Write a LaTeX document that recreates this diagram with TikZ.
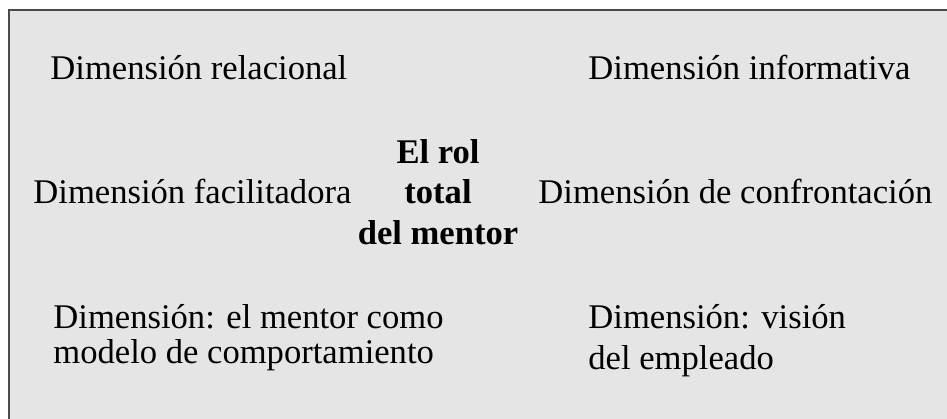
\documentclass[tikz,border=0pt]{standalone}
\usepackage{fontspec}
\setmainfont{Liberation Serif}
\definecolor{boxfill}{HTML}{E5E5E5}
\definecolor{boxline}{HTML}{4A4A4A}
\begin{document}
\begin{tikzpicture}[x=0.5pt,y=-0.5pt,
  dimlabel/.style={inner sep=0pt, anchor=base west, text=black,
    font=\fontsize{17.3}{17.5}\selectfont},
  corelabel/.style={inner sep=0pt, anchor=base, align=center, text=black,
    font=\fontsize{17.3}{20.25}\selectfont\bfseries}]
\useasboundingbox (0,0) rectangle (947,418);
\draw[boxline, line width=1pt, fill=boxfill] (8.5,9.5) rectangle (980,450);
\node[dimlabel] (rel) at (50,79) {Dimensión relacional};
\node[dimlabel] (inf) at (588,79) {Dimensión informativa};
\node[dimlabel] (fac) at (33,203) {Dimensión facilitadora};
\node[dimlabel] (con) at (538,203) {Dimensión de confrontación};
\node[dimlabel, align=left] (mod) at (53,363) {Dimensión: el mentor como\\modelo de comportamiento};
\node[dimlabel, align=left, font=\fontsize{17.3}{20.5}\selectfont] (vis) at (588,369) {Dimensión: visión\\del empleado};
\node[corelabel] (core) at (438,244) {El rol\\total\\del mentor};
\end{tikzpicture}
\end{document}
